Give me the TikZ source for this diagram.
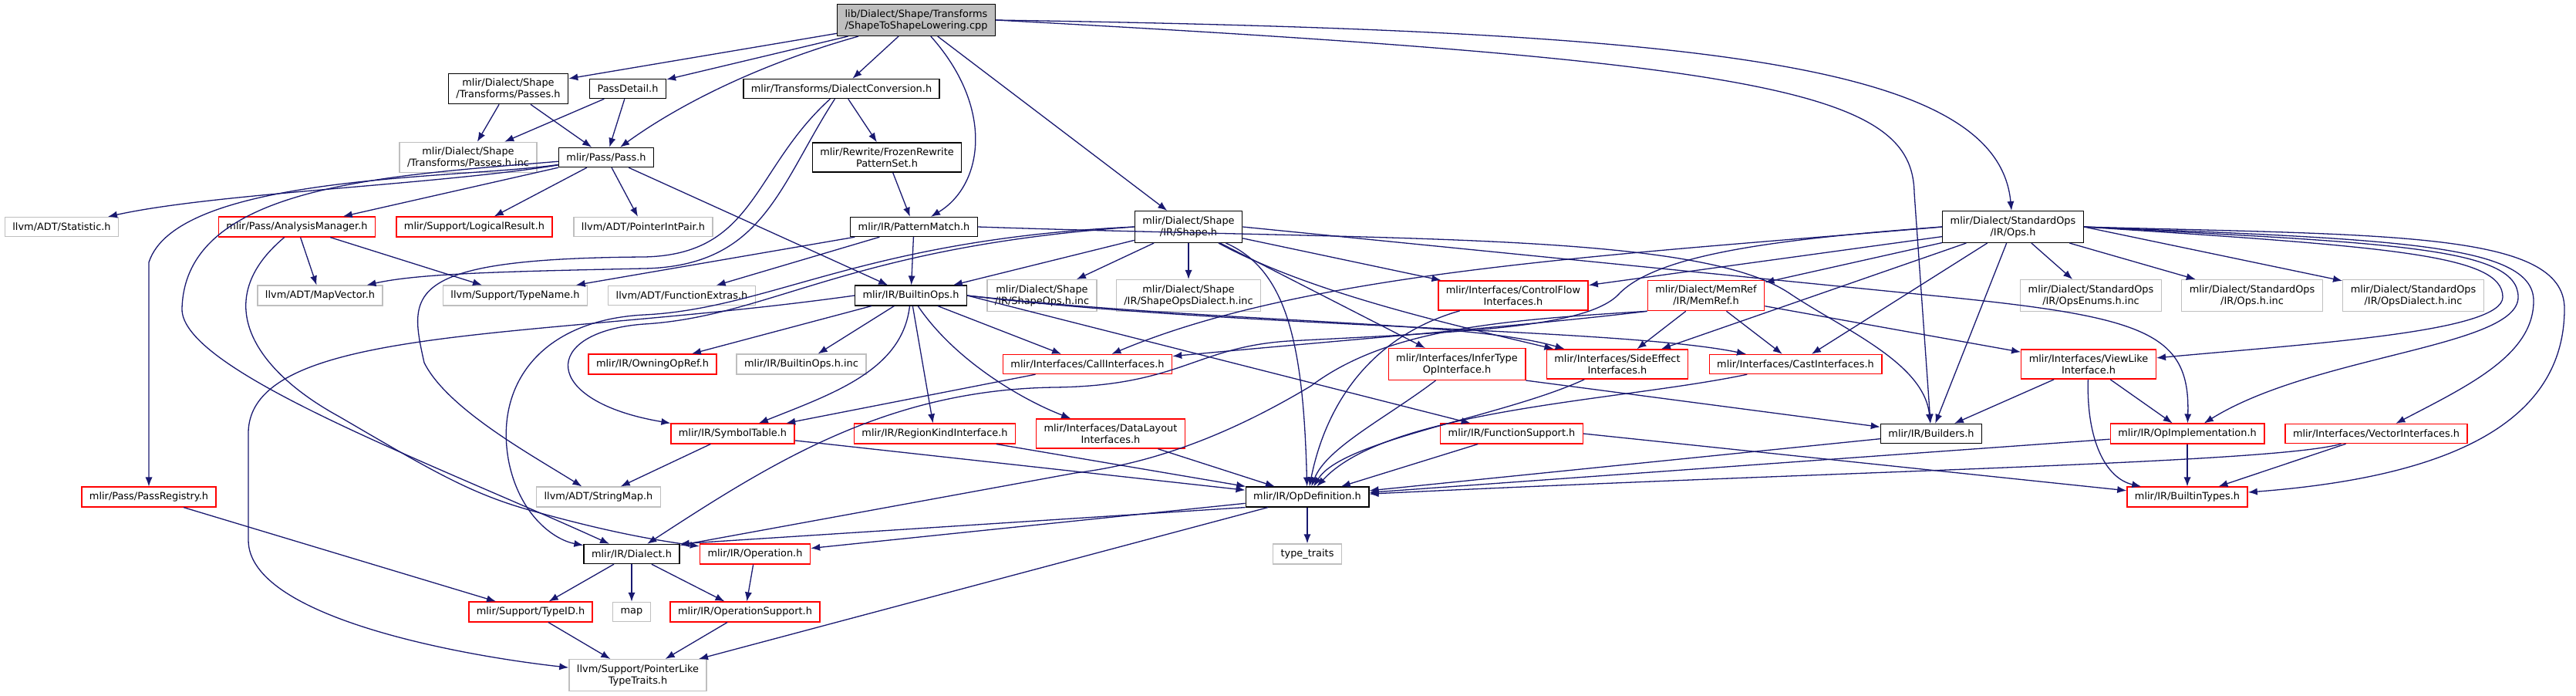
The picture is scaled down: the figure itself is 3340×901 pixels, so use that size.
\documentclass[tikz,border=0pt]{standalone}
\usepackage{fontspec}
\setmainfont{DejaVu Sans}
\usepackage{tikz}
\usetikzlibrary{arrows.meta}
\definecolor{edgec}{HTML}{191970}
\definecolor{boxg}{HTML}{BFBFBF}
\definecolor{boxr}{HTML}{FF0000}

\begin{document}
\begin{tikzpicture}[x=0.5pt, y=-0.5pt,
  font=\fontsize{6.45}{7.5}\selectfont,
  hb/.style={rectangle, draw=black, fill=white, line width=0.7pt, inner xsep=5pt,
             inner ysep=3.3pt, minimum height=12.5pt, align=center},
  hg/.style={hb, draw=boxg},
  hr/.style={hb, draw=boxr},
  src/.style={hb, fill=boxg},
  e/.style={-{Latex[length=6pt,width=4.6pt]}, draw=edgec, line width=0.65pt}]
\useasboundingbox (0,0) rectangle (3340,901);
\node[src] (root) at (1188,26) {lib/Dialect/Shape/Transforms\\/ShapeToShapeLowering.cpp};
\node[hb] (spasses) at (659,115) {mlir/Dialect/Shape\\/Transforms/Passes.h};
\node[hb] (passdetail) at (814,115) {PassDetail.h};
\node[hb] (dconv) at (1091,115) {mlir/Transforms/DialectConversion.h};
\node[hg] (passesinc) at (607,204) {mlir/Dialect/Shape\\/Transforms/Passes.h.inc};
\node[hb] (pass) at (786,204) {mlir/Pass/Pass.h};
\node[hb] (frozen) at (1150,204) {mlir/Rewrite/FrozenRewrite\\PatternSet.h};
\node[hg] (statistic) at (80,294) {llvm/ADT/Statistic.h};
\node[hr] (amgr) at (385,294) {mlir/Pass/AnalysisManager.h};
\node[hr] (logres) at (615,294) {mlir/Support/LogicalResult.h};
\node[hg] (ptrint) at (834,294) {llvm/ADT/PointerIntPair.h};
\node[hb] (pmatch) at (1185,294) {mlir/IR/PatternMatch.h};
\node[hb] (shape) at (1541,294) {mlir/Dialect/Shape\\/IR/Shape.h};
\node[hb] (stdops) at (2610,294) {mlir/Dialect/StandardOps\\/IR/Ops.h};
\node[hg] (mapvec) at (415,383) {llvm/ADT/MapVector.h};
\node[hg] (typename) at (668,383) {llvm/Support/TypeName.h};
\node[hg] (funcext) at (884,383) {llvm/ADT/FunctionExtras.h};
\node[hb] (builtinops) at (1181,383) {mlir/IR/BuiltinOps.h};
\node[hg] (shapeopsinc) at (1351,383) {mlir/Dialect/Shape\\/IR/ShapeOps.h.inc};
\node[hg] (shapedialinc) at (1541,383) {mlir/Dialect/Shape\\/IR/ShapeOpsDialect.h.inc};
\node[hr] (cfi) at (1962,383) {mlir/Interfaces/ControlFlow\\Interfaces.h};
\node[hr] (memref) at (2212,383) {mlir/Dialect/MemRef\\/IR/MemRef.h};
\node[hg] (opsenums) at (2711,383) {mlir/Dialect/StandardOps\\/IR/OpsEnums.h.inc};
\node[hg] (opsinc) at (2920,383) {mlir/Dialect/StandardOps\\/IR/Ops.h.inc};
\node[hg] (opsdialinc) at (3129,383) {mlir/Dialect/StandardOps\\/IR/OpsDialect.h.inc};
\node[hr] (owning) at (846,472) {mlir/IR/OwningOpRef.h};
\node[hg] (builtinopsinc) at (1039,472) {mlir/IR/BuiltinOps.h.inc};
\node[hr] (callif) at (1410,472) {mlir/Interfaces/CallInterfaces.h};
\node[hr] (infertype) at (1889,472) {mlir/Interfaces/InferType\\OpInterface.h};
\node[hr] (sideeffect) at (2097,472) {mlir/Interfaces/SideEffect\\Interfaces.h};
\node[hr] (castif) at (2328,472) {mlir/Interfaces/CastInterfaces.h};
\node[hr] (viewlike) at (2708,472) {mlir/Interfaces/ViewLike\\Interface.h};
\node[hr] (symtab) at (950,562) {mlir/IR/SymbolTable.h};
\node[hr] (regionkind) at (1212,562) {mlir/IR/RegionKindInterface.h};
\node[hr] (datalayout) at (1440,562) {mlir/Interfaces/DataLayout\\Interfaces.h};
\node[hr] (funcsupp) at (1960,562) {mlir/IR/FunctionSupport.h};
\node[hb] (builders) at (2504,562) {mlir/IR/Builders.h};
\node[hr] (opimpl) at (2836,562) {mlir/IR/OpImplementation.h};
\node[hr] (vectorif) at (3081,562) {mlir/Interfaces/VectorInterfaces.h};
\node[hr] (passreg) at (193,644) {mlir/Pass/PassRegistry.h};
\node[hg] (stringmap) at (776,644) {llvm/ADT/StringMap.h};
\node[hb] (opdef) at (1695,644) {mlir/IR/OpDefinition.h};
\node[hr] (builtintypes) at (2836,644) {mlir/IR/BuiltinTypes.h};
\node[hb] (dialect) at (819,718) {mlir/IR/Dialect.h};
\node[hr] (operation) at (979,718) {mlir/IR/Operation.h};
\node[hg] (typetraits) at (1695,718) {type\_traits};
\node[hr] (typeid) at (688,793) {mlir/Support/TypeID.h};
\node[hg] (map) at (819,793) {map};
\node[hr] (opsupport) at (966,793) {mlir/IR/OperationSupport.h};
\node[hg] (ptrlike) at (827,875) {llvm/Support/PointerLike\\TypeTraits.h};
\draw[e] (root) -- (spasses);
\draw[e] (root) -- (passdetail);
\draw[e] (root) .. controls (960,90) and (860,150) .. (pass);
\draw[e] (root) -- (dconv);
\draw[e] (root) .. controls (1290,140) and (1275,240) .. (pmatch);
\draw[e] (root) -- (shape);
\draw[e] (root.east) .. controls (2300,80) and (2480,120) .. (2482,250) -- (builders);
\draw[e] (root.east) .. controls (2200,40) and (2590,80) .. (stdops);
\draw[e] (spasses) -- (passesinc);
\draw[e] (spasses) -- (pass);
\draw[e] (passdetail) -- (passesinc);
\draw[e] (passdetail) -- (pass);
\draw[e] (dconv) -- (frozen);
\draw[e] (dconv) .. controls (975,220) and (980,330) .. (835,333) .. controls (520,335) and (530,380) .. (550,470) .. controls (580,530) and (690,590) .. (stringmap);
\draw[e] (dconv) .. controls (1010,240) and (990,345) .. (835,348) .. controls (640,352) and (540,355) .. (mapvec);
\draw[e] (frozen) -- (pmatch);
\draw[e] (pass) .. controls (560,240) and (280,250) .. (statistic);
\draw[e] (pass.south west) -- (amgr);
\draw[e] (pass) -- (logres);
\draw[e] (pass) -- (ptrint);
\draw[e] (pass) -- (builtinops);
\draw[e] (pass) .. controls (600,232) and (230,225) .. (193,340) -- (passreg);
\draw[e] (pass) .. controls (500,228) and (240,240) .. (236,400) .. controls (234,480) and (560,600) .. (dialect);
\draw[e] (amgr) -- (mapvec);
\draw[e] (amgr) -- (typename);
\draw[e] (amgr) .. controls (270,390) and (330,480) .. (440,540) .. controls (560,610) and (610,640) .. (690,662) .. controls (790,690) and (850,700) .. (operation);
\draw[e] (pmatch) -- (typename);
\draw[e] (pmatch) -- (funcext);
\draw[e] (pmatch) -- (builtinops);
\draw[e] (pmatch.east) .. controls (1800,312) and (2200,300) .. (2320,380) .. controls (2390,427) and (2495,470) .. (builders);
\draw[e] (shape) -- (shapeopsinc);
\draw[e] (shape) -- (shapedialinc);
\draw[e] (shape) -- (builtinops);
\draw[e] (shape) -- (cfi);
\draw[e] (shape) -- (infertype);
\draw[e] (shape) .. controls (1700,380) and (1880,420) .. (sideeffect);
\draw[e] (shape) .. controls (1670,350) and (1690,450) .. (opdef);
\draw[e] (shape.east) -- (2505,383) .. controls (2780,410) and (2840,430) .. (opimpl);
\draw[e] (shape.west) .. controls (1100,320) and (1000,410) .. (835,420) .. controls (700,430) and (700,520) .. (symtab);
\draw[e] (shape.west) .. controls (1120,310) and (1000,400) .. (835,408) .. controls (700,415) and (640,500) .. (660,600) .. controls (675,670) and (720,700) .. (dialect);
\draw[e] (stdops) -- (opsenums);
\draw[e] (stdops) -- (opsinc);
\draw[e] (stdops.east) -- (opsdialinc);
\draw[e] (stdops) -- (cfi);
\draw[e] (stdops) -- (memref);
\draw[e] (stdops.west) .. controls (2100,330) and (1700,350) .. (callif);
\draw[e] (stdops) -- (sideeffect);
\draw[e] (stdops) -- (castif);
\draw[e] (stdops) -- (builders);
\draw[e] (stdops.west) .. controls (2300,310) and (2150,330) .. (2100,380) .. controls (2060,425) and (1900,430) .. (1670,442) .. controls (1550,450) and (1530,500) .. (1367,502) .. controls (1150,505) and (1000,600) .. (dialect);
\draw[e] (stdops.east) .. controls (3100,320) and (3245,330) .. (3245,385) .. controls (3245,430) and (3000,445) .. (viewlike);
\draw[e] (stdops.east) .. controls (3100,315) and (3265,320) .. (3265,385) .. controls (3265,450) and (3000,460) .. (opimpl);
\draw[e] (stdops.east) .. controls (3100,310) and (3285,315) .. (3285,390) .. controls (3285,460) and (3200,500) .. (vectorif);
\draw[e] (stdops.east) .. controls (3100,305) and (3325,300) .. (3325,400) .. controls (3325,560) and (3150,620) .. (builtintypes);
\draw[e] (memref) -- (sideeffect);
\draw[e] (memref) -- (castif);
\draw[e] (memref) -- (viewlike);
\draw[e] (memref.south west) .. controls (2000,420) and (1750,440) .. (callif);
\draw[e] (memref.south west) .. controls (1950,415) and (1800,425) .. (1700,500) .. controls (1600,560) and (1500,600) .. (1394,613) -- (dialect);
\draw[e] (cfi) .. controls (1780,435) and (1720,520) .. (opdef);
\draw[e] (infertype) .. controls (1800,540) and (1720,580) .. (opdef);
\draw[e] (infertype.south east) -- (builders);
\draw[e] (sideeffect) .. controls (1950,540) and (1740,570) .. (opdef);
\draw[e] (castif) .. controls (2100,520) and (1800,530) .. (opdef);
\draw[e] (callif) -- (symtab);
\draw[e] (viewlike) -- (builders);
\draw[e] (viewlike) -- (opimpl);
\draw[e] (viewlike) .. controls (2705,570) and (2730,620) .. (builtintypes);
\draw[e] (builtinops) -- (owning);
\draw[e] (builtinops) -- (builtinopsinc);
\draw[e] (builtinops) .. controls (1170,480) and (1080,510) .. (symtab);
\draw[e] (builtinops) -- (regionkind);
\draw[e] (builtinops) -- (callif);
\draw[e] (builtinops) .. controls (1240,470) and (1330,520) .. (datalayout);
\draw[e] (builtinops.east) -- (funcsupp);
\draw[e] (builtinops.east) .. controls (1600,420) and (1900,415) .. (sideeffect);
\draw[e] (builtinops.east) .. controls (1600,425) and (2100,425) .. (castif);
\draw[e] (builtinops.west) .. controls (700,440) and (325,420) .. (322,560) -- (322,700) .. controls (322,800) and (600,850) .. (ptrlike);
\draw[e] (symtab) -- (stringmap);
\draw[e] (symtab) -- (opdef);
\draw[e] (regionkind) -- (opdef);
\draw[e] (datalayout) -- (opdef);
\draw[e] (funcsupp) -- (opdef);
\draw[e] (funcsupp.east) -- (builtintypes);
\draw[e] (builders) -- (opdef);
\draw[e] (opimpl) -- (opdef);
\draw[e] (opimpl) -- (builtintypes);
\draw[e] (vectorif) .. controls (2950,600) and (2400,610) .. (opdef);
\draw[e] (vectorif) -- (builtintypes);
\draw[e] (passreg) -- (typeid);
\draw[e] (opdef.south west) -- (dialect.north east);
\draw[e] (opdef) -- (operation);
\draw[e] (opdef) -- (typetraits);
\draw[e] (opdef) -- (ptrlike);
\draw[e] (dialect) -- (typeid);
\draw[e] (dialect) -- (map);
\draw[e] (dialect) -- (opsupport);
\draw[e] (operation) -- (opsupport);
\draw[e] (typeid) -- (ptrlike);
\draw[e] (opsupport) -- (ptrlike);
\end{tikzpicture}
\end{document}
